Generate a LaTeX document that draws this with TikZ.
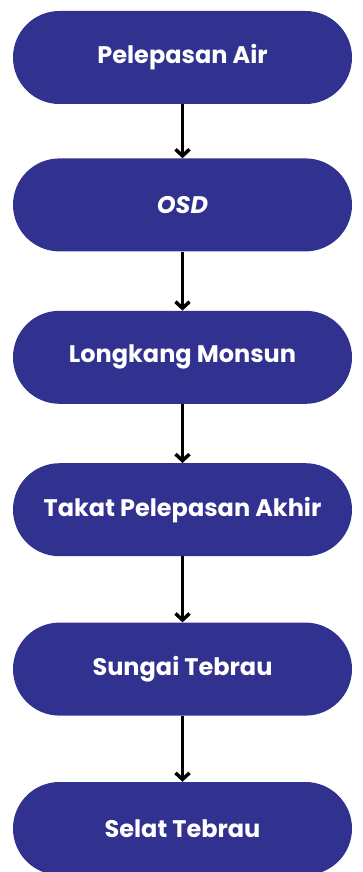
\documentclass[tikz,border=0pt]{standalone}
\usepackage{fontspec}
\setmainfont{Poppins}
\usetikzlibrary{arrows.meta, positioning}
\definecolor{stepblue}{RGB}{49,49,144}
\tikzset{
    pill/.style={rectangle, fill=stepblue, text=white, font=\fontsize{24}{28}\selectfont\bfseries, minimum width=339pt, minimum height=93pt, rounded corners=46.5pt, inner sep=0pt, align=center},
    arrow/.style={line width=3.5pt, -{Straight Barb[length=6.5pt, width=14pt]}}
}

\begin{document}
\begin{tikzpicture}[x=1pt, y=-1pt]
    \useasboundingbox (0,0) rectangle (362,872);
    % Place nodes
    \node [pill] (release) at (182.5,57.5) {Pelepasan Air};
    \node [pill, below=54pt of release] (osd) {\itshape OSD};
    \node [pill, below=59pt of osd] (monsoon) {Longkang Monsun};
    \node [pill, below=59pt of monsoon] (outfall) {Takat Pelepasan Akhir};
    \node [pill, below=66pt of outfall] (river) {Sungai Tebrau};
    \node [pill, below=66pt of river] (strait) {Selat Tebrau};

    % Draw edges
    \draw [arrow] (release) -- (osd);
    \draw [arrow] (osd) -- (monsoon);
    \draw [arrow] (monsoon) -- (outfall);
    \draw [arrow] (outfall) -- (river);
    \draw [arrow] (river) -- (strait);
\end{tikzpicture}
\end{document}
